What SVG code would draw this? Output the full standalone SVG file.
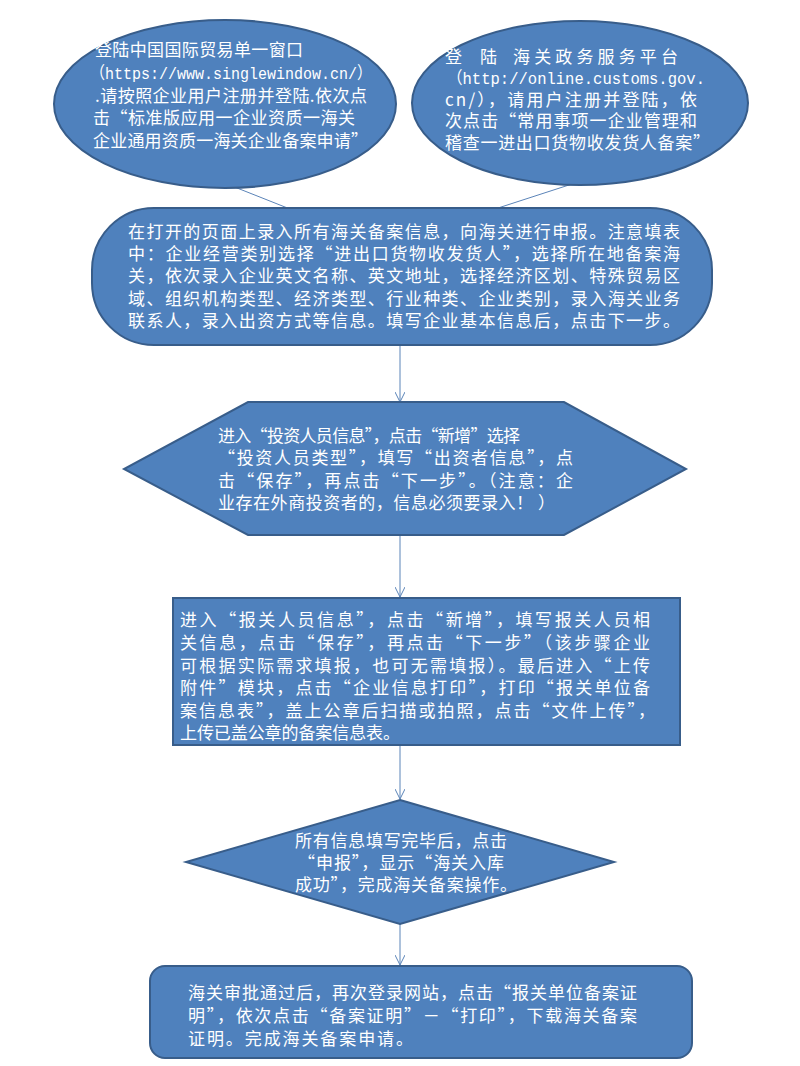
<svg xmlns="http://www.w3.org/2000/svg" width="800" height="1066" viewBox="0 0 800 1066">
<style>
.shape{fill:#4f81bd;stroke:#385d8a;stroke-width:2}
.t{fill:#ffffff;font-family:"Noto Sans CJK SC","Liberation Sans",sans-serif;font-size:17px}
.m{fill:#ffffff;font-family:"Liberation Mono","Noto Sans CJK SC",monospace;font-size:17px}
.c{stroke:#5b84b8;stroke-width:1;fill:none}
.a{stroke:#5b84b8;stroke-width:1;fill:none;marker-end:url(#arr)}
</style>
<defs>
<marker id="arr" viewBox="0 0 10 10" refX="10" refY="5" markerWidth="10" markerHeight="10" markerUnits="userSpaceOnUse" orient="auto">
<path d="M0,0 L10,5 L0,10" fill="none" stroke="#5b84b8" stroke-width="1"/>
</marker>
</defs>
<rect width="800" height="1066" fill="#ffffff"/>

<g id="connectors">
<line class="c" x1="232" y1="186" x2="290" y2="209"/>
<line class="c" x1="572" y1="184" x2="495" y2="209"/>
<line class="a" x1="400" y1="345" x2="400" y2="402"/>
<line class="a" x1="400" y1="535" x2="400" y2="597"/>
<line class="a" x1="400" y1="745" x2="400" y2="799"/>
<line class="a" x1="400" y1="924" x2="400" y2="965"/>
</g>

<g id="node-singlewindow">
<ellipse class="shape" cx="225" cy="104" rx="171" ry="84"/>
<text class="t" x="95" y="56" textLength="208" lengthAdjust="spacing">登陆中国国际贸易单一窗口</text>
<text class="m" x="90" y="79" textLength="282" lengthAdjust="spacingAndGlyphs">（https://www.singlewindow.cn/）</text>
<text class="t" x="95" y="102" textLength="272" lengthAdjust="spacing">.请按照企业用户注册并登陆.依次点</text>
<text class="t" x="93" y="124" textLength="262" lengthAdjust="spacing">击“标准版应用一企业资质一海关</text>
<text class="t" x="93" y="147" textLength="275" lengthAdjust="spacing">企业通用资质一海关企业备案申请”</text>
</g>

<g id="node-customs-online">
<ellipse class="shape" cx="580" cy="103" rx="168" ry="82"/>
<text class="t" y="63"><tspan x="445">登</tspan><tspan x="480">陆</tspan><tspan x="513" textLength="165" lengthAdjust="spacing">海关政务服务平台</tspan></text>
<text class="m" x="447" y="84" textLength="258" lengthAdjust="spacingAndGlyphs">（http://online.customs.gov.</text>
<text class="t" x="445" y="106" textLength="252" lengthAdjust="spacing">cn/），请用户注册并登陆，依</text>
<text class="t" x="445" y="127" textLength="252" lengthAdjust="spacing">次点击“常用事项一企业管理和</text>
<text class="t" x="445" y="149" textLength="265" lengthAdjust="spacing">稽查一进出口货物收发货人备案”</text>
</g>

<g id="node-fill-info">
<rect class="shape" x="92" y="208" width="620" height="137" rx="62" ry="62"/>
<text class="t" x="128" y="238" textLength="552" lengthAdjust="spacing">在打开的页面上录入所有海关备案信息，向海关进行申报。注意填表</text>
<text class="t" x="128" y="260" textLength="552" lengthAdjust="spacing">中：企业经营类别选择“进出口货物收发货人”，选择所在地备案海</text>
<text class="t" x="128" y="282" textLength="552" lengthAdjust="spacing">关，依次录入企业英文名称、英文地址，选择经济区划、特殊贸易区</text>
<text class="t" x="128" y="305" textLength="552" lengthAdjust="spacing">域、组织机构类型、经济类型、行业种类、企业类别，录入海关业务</text>
<text class="t" x="128" y="327" textLength="552" lengthAdjust="spacing">联系人，录入出资方式等信息。填写企业基本信息后，点击下一步。</text>
</g>

<g id="node-investor">
<polygon class="shape" points="248,402 564,402 686,469 564,535 248,535 124,469"/>
<text class="t" x="218" y="442" textLength="302" lengthAdjust="spacing">进入“投资人员信息”，点击“新增”选择</text>
<text class="t" x="218" y="464" textLength="355" lengthAdjust="spacing">“投资人员类型”，填写“出资者信息”，点</text>
<text class="t" x="218" y="487" textLength="355" lengthAdjust="spacing">击“保存”，再点击“下一步”。（注意：企</text>
<text class="t" x="218" y="509" textLength="337" lengthAdjust="spacing">业存在外商投资者的，信息必须要录入！ ）</text>
</g>

<g id="node-declarant">
<rect class="shape" x="173" y="598" width="507" height="147"/>
<text class="t" x="180" y="626" textLength="470" lengthAdjust="spacing">进入“报关人员信息”，点击“新增”，填写报关人员相</text>
<text class="t" x="180" y="649" textLength="470" lengthAdjust="spacing">关信息，点击“保存”，再点击“下一步”（该步骤企业</text>
<text class="t" x="180" y="672" textLength="470" lengthAdjust="spacing">可根据实际需求填报，也可无需填报）。最后进入“上传</text>
<text class="t" x="180" y="694" textLength="470" lengthAdjust="spacing">附件”模块，点击“企业信息打印”，打印“报关单位备</text>
<text class="t" x="180" y="717" textLength="475" lengthAdjust="spacing">案信息表”，盖上公章后扫描或拍照，点击“文件上传”，</text>
<text class="t" x="180" y="739" textLength="220" lengthAdjust="spacing">上传已盖公章的备案信息表。</text>
</g>

<g id="node-submit">
<polygon class="shape" points="400,800 614,862 400,924 186,862"/>
<text class="t" x="295" y="847" textLength="212" lengthAdjust="spacing">所有信息填写完毕后，点击</text>
<text class="t" x="298" y="869" textLength="206" lengthAdjust="spacing">“申报”，显示“海关入库</text>
<text class="t" x="295" y="891" textLength="222" lengthAdjust="spacing">成功”，完成海关备案操作。</text>
</g>

<g id="node-certificate">
<rect class="shape" x="150" y="966" width="542" height="92" rx="15" ry="15"/>
<text class="t" x="188" y="999" textLength="449" lengthAdjust="spacing">海关审批通过后，再次登录网站，点击“报关单位备案证</text>
<text class="t" x="188" y="1022" textLength="449" lengthAdjust="spacing">明”，依次点击“备案证明”－“打印”，下载海关备案</text>
<text class="t" x="188" y="1045" textLength="225" lengthAdjust="spacing">证明。完成海关备案申请。</text>
</g>
</svg>
